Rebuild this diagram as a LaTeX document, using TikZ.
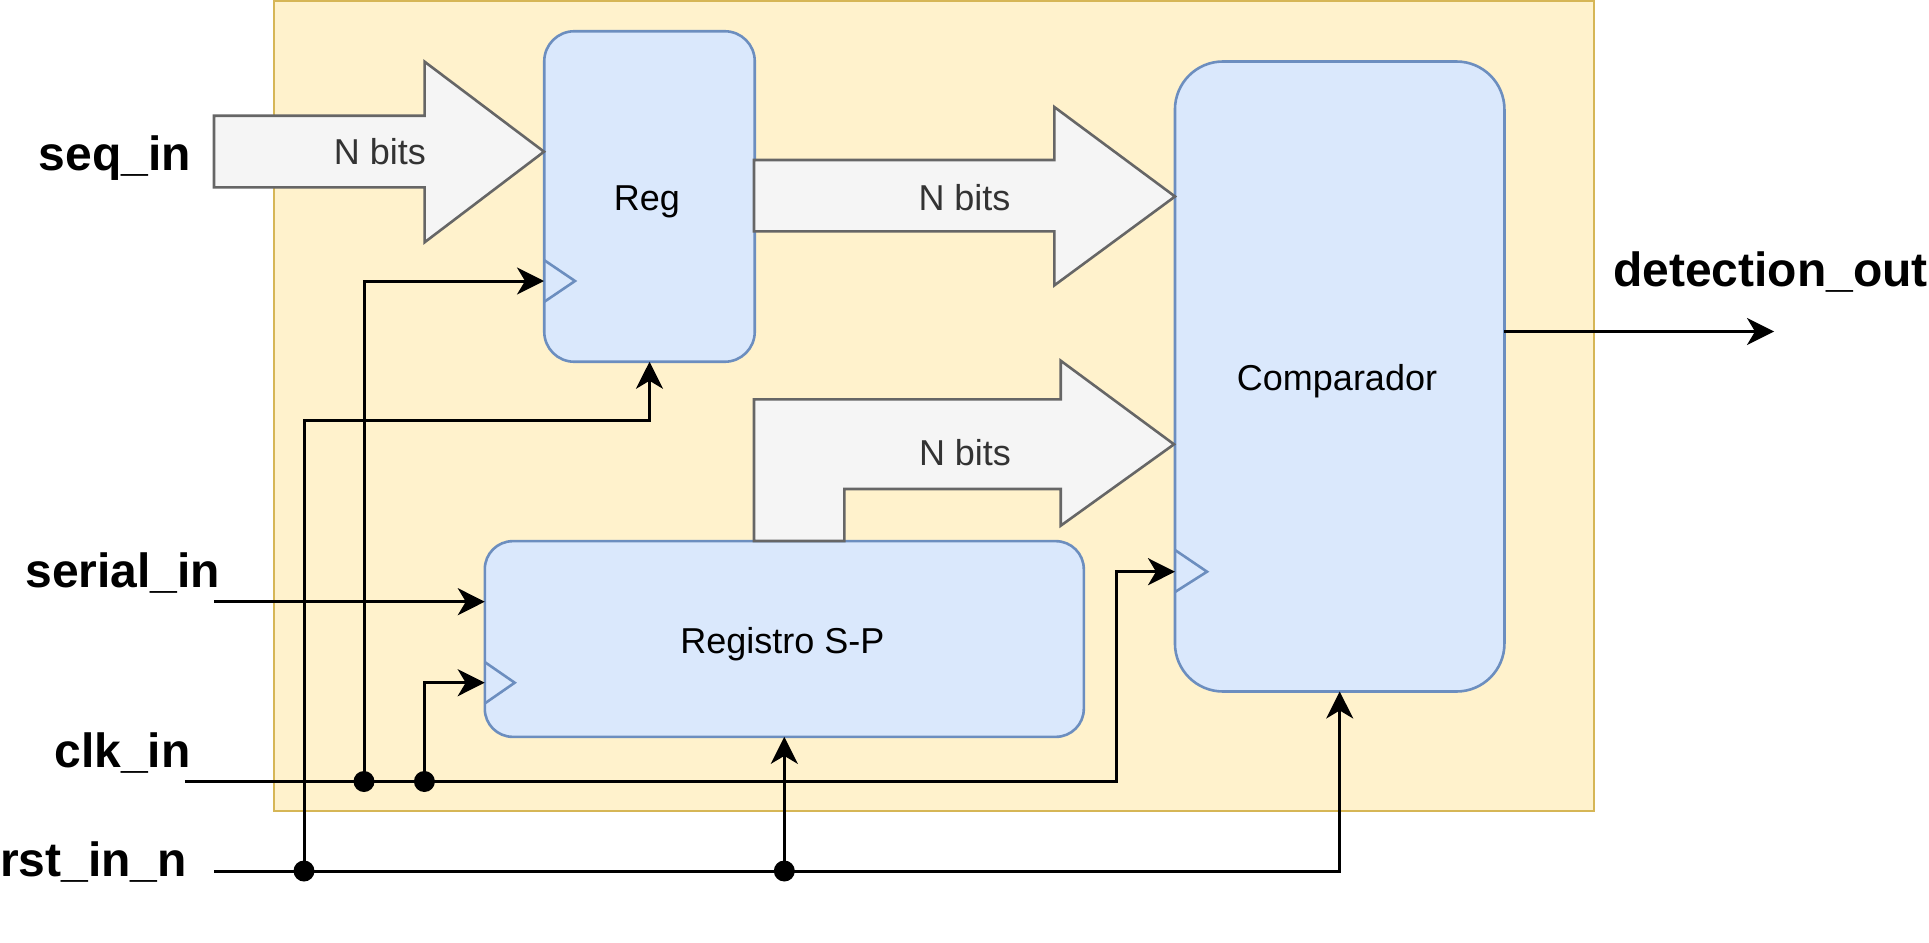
\documentclass[tikz,border=0pt]{standalone}
\usepackage{fontspec}
\setmainfont{Liberation Sans}
\usetikzlibrary{arrows.meta}
\definecolor{ybg}{HTML}{FFF2CC}
\definecolor{yst}{HTML}{D6B656}
\definecolor{bbg}{HTML}{DAE8FC}
\definecolor{bst}{HTML}{6C8EBF}
\definecolor{gbg}{HTML}{F5F5F5}
\definecolor{gst}{HTML}{666666}
\definecolor{gtx}{HTML}{333333}
\begin{document}
\begin{tikzpicture}[x=1pt,y=-1pt,
 block/.style={draw=bst,fill=bbg,line width=2.6pt,inner sep=0,outer sep=0},
 bus/.style={draw=gst,fill=gbg,line width=2.6pt,line join=miter},
 bustext/.style={text=gtx,font=\fontsize{36}{43}\selectfont,inner sep=0,anchor=base},
 blocktext/.style={font=\fontsize{36}{43}\selectfont,inner sep=0,anchor=base},
 pin/.style={font=\bfseries\fontsize{48}{58}\selectfont,inner sep=0,anchor=base},
 conn/.style={line width=3pt,-{Stealth[length=27pt,width=27pt,inset=8pt]}},
 dot/.style={circle,fill=black,inner sep=0,minimum size=21pt},
 clkmark/.style={draw=bst,line width=2.6pt}
]
\useasboundingbox (0,0) rectangle (1929,942);
% container
\node[draw=yst,fill=ybg,line width=2.8pt,minimum width=1320pt,minimum height=810pt,inner sep=0,outer sep=0] (sys) at (934,406) {};

% blocks
\node[block,rounded corners=30pt,minimum width=210.5pt,minimum height=330.5pt] (reg) at (649.5,196.5) {};
\node[block,rounded corners=48pt,minimum width=329.5pt,minimum height=630pt] (comp) at (1339.7,376.5) {};
\node[block,rounded corners=28pt,minimum width=599pt,minimum height=195.7pt] (sp) at (784.3,639) {};

% bus arrows
\draw[bus] (214,115.7) -- (424.6,115.7) -- (424.6,61.7) -- (544,151.7) -- (424.6,242.3) -- (424.6,187.3) -- (214,187.3) -- cycle;
\draw[bus] (754,160) -- (1054.3,160) -- (1054.3,107) -- (1175,196.5) -- (1054.3,285.4) -- (1054.3,231.3) -- (754,231.3) -- cycle;
\draw[bus] (754,541) -- (754,399.3) -- (1060.7,399.3) -- (1060.7,360.7) -- (1174,444.3) -- (1060.7,525.7) -- (1060.7,489) -- (844.3,489) -- (844.3,541) -- cycle;
\node[bustext] (nb1) at (380,164.3) {N bits};
\node[bustext] (nb2) at (964.5,210) {N bits};
\node[bustext] (nb3) at (965,465.7) {N bits};

% block texts
\node[blocktext] (treg) at (647,210) {Reg};
\node[blocktext] (tcomp) at (1337,390.7) {Comparador};
\node[blocktext] (tsp) at (782.4,653.5) {Registro S-P};

% clock marks
\draw[clkmark] (544,260) -- (575,281) -- (544,302);
\draw[clkmark] (484.7,662) -- (514.7,682.7) -- (484.7,703.5);
\draw[clkmark] (1175,550) -- (1207,571.7) -- (1175,592);

% coordinates
\coordinate (serin) at (214.3,601.7);
\coordinate (clkin) at (184.8,781.5);
\coordinate (d1) at (364,781.5);
\coordinate (d2) at (424.4,781.5);
\coordinate (clkbend) at (1116,781.5);
\coordinate (regclk) at (544,281);
\coordinate (spclk) at (484.7,682.7);
\coordinate (cmpclk) at (1175,571.7);
\coordinate (rstin) at (214.3,871);
\coordinate (r1) at (304,871);
\coordinate (r2) at (784.3,871);
\coordinate (rstbend) at (649.5,420.7);
\coordinate (detout) at (1774,331.5);

% connectors
\draw[conn] (serin) -- (serin -| sp.west);
\draw[conn] (clkin) -- (clkbend) |- (cmpclk);
\draw[conn] (d1) |- (regclk);
\draw[conn] (d2) |- (spclk);
\draw[conn] (rstin) -| (comp.south);
\draw[conn] (r1) |- (rstbend) -- (reg.south);
\draw[conn] (r2) -- (sp.south);
\draw[conn] (comp.east |- detout) -- (detout);

% junction dots
\node[dot] (dot1) at (d1) {};
\node[dot] (dot2) at (d2) {};
\node[dot] (dot3) at (r1) {};
\node[dot] (dot4) at (r2) {};

% pin labels
\node[pin] (lseq) at (115,170) {seq\_in};
\node[pin] (lser) at (122.9,587.7) {serial\_in};
\node[pin] (lclk) at (122.6,767.7) {clk\_in};
\node[pin] (lrst) at (93.4,876.7) {rst\_in\_n};
\node[pin,anchor=base west] (lout) at (1613,286.7) {detection\_out};
\end{tikzpicture}
\end{document}
